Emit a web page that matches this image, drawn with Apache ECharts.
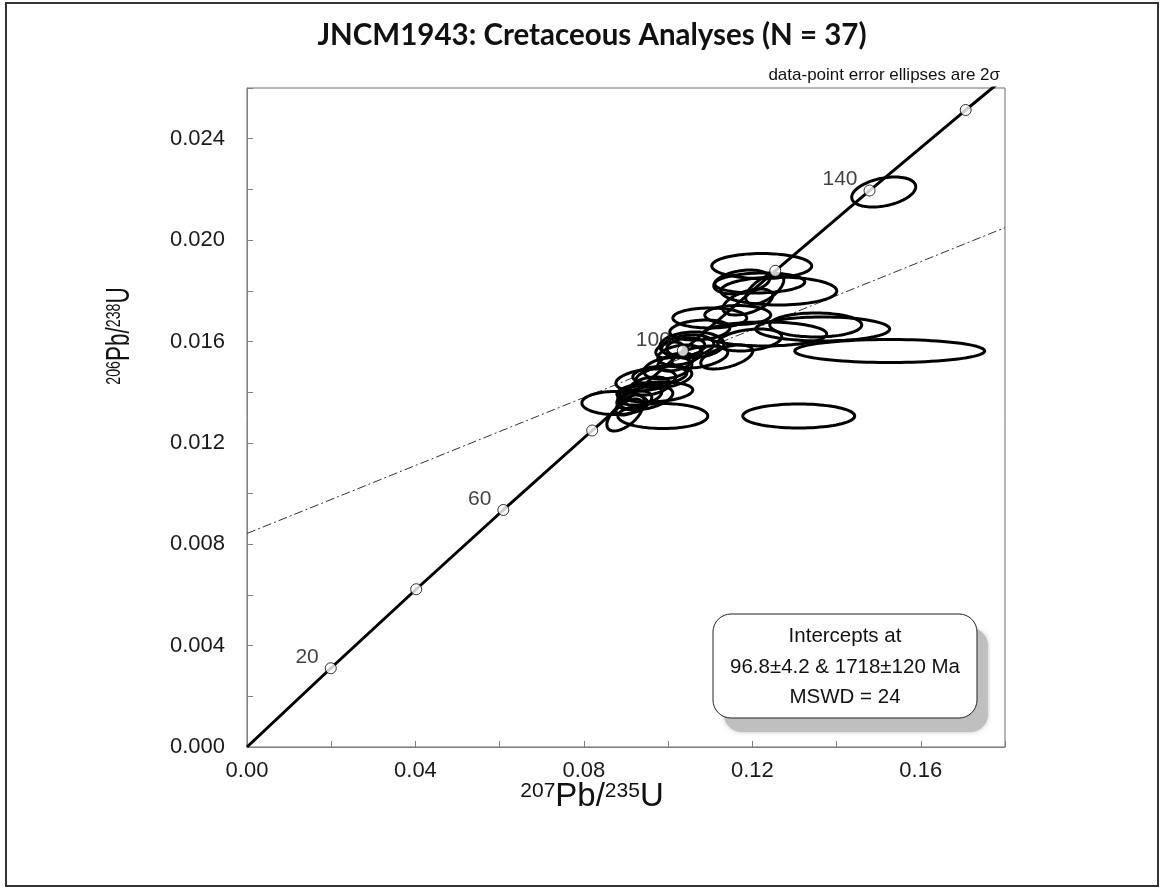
<!DOCTYPE html>
<html>
<head>
<meta charset="utf-8">
<script src="https://cdn.jsdelivr.net/npm/echarts@6/dist/echarts.min.js"></script>
<style>
html, body { margin: 0; padding: 0; background: #fff; }
#chart { width: 1160px; height: 888px; }
</style>
</head>
<body>
<div id="chart"></div>
<script>
// Concordia curve: reference ages (Ma) and their 207Pb/235U, 206Pb/238U ratios
const concordiaAges = [0, 20, 40, 60, 80, 100, 120, 140, 160, 170];
const concordiaX = [0, 0.019892, 0.040180, 0.060872, 0.081975, 0.103497, 0.125447, 0.147834, 0.170665, 0.182260];
const concordiaY = [0, 0.0031073, 0.0062243, 0.0093510, 0.012487, 0.015633, 0.018789, 0.021955, 0.025131, 0.026722];
const markerAges = [20, 40, 60, 80, 100, 120, 140, 160];
const labelledAges = [20, 60, 100, 140];

// Discordia line through the 96.8 Ma and 1718 Ma intercepts
const discordiaX = [0, 0.18];
const discordiaY = [0.008425, 0.020491];

// Analyses: centre ratios, 2-sigma half-widths and error correlation
const ellX   = [0.12224, 0.12177, 0.12628, 0.12295, 0.11892, 0.11749,
                0.11654, 0.10990, 0.12295, 0.13506, 0.13672, 0.11393, 0.11939, 0.10752,
                0.10420, 0.10468, 0.10563, 0.10278, 0.10183, 0.09993, 0.09898, 0.10040, 0.10752,
                0.09874, 0.08735, 0.08972, 0.09684, 0.09328, 0.09233, 0.09566, 0.09803, 0.09091, 0.09447, 0.09471,
                0.15120, 0.15262, 0.13102];
const ellY   = [0.018977, 0.018307, 0.017991, 0.018070, 0.017557, 0.018346,
                0.017044, 0.016926, 0.016295, 0.016650, 0.016492, 0.015387, 0.016058, 0.016452,
                0.015782, 0.015821, 0.015861, 0.015466, 0.015190, 0.014953, 0.014598, 0.015663, 0.015387,
                0.013059, 0.013572, 0.013099, 0.014006, 0.013888, 0.013691, 0.014243, 0.014677, 0.013493, 0.013770, 0.014480,
                0.021897, 0.015624, 0.013059];
const ellSX  = [0.01187, 0.01068, 0.01377, 0.00451, 0.00593, 0.00665,
                0.00783, 0.00878, 0.01472, 0.01092, 0.01590, 0.00617, 0.00760, 0.00712,
                0.00451, 0.00617, 0.00760, 0.00522, 0.00427, 0.00570, 0.00665, 0.00332, 0.00665,
                0.01068, 0.00783, 0.00427, 0.00902, 0.00522, 0.00380, 0.00475, 0.00641, 0.00332, 0.00665, 0.00712,
                0.00760, 0.02255, 0.01329];
const ellSY  = [0.000493, 0.000395, 0.000552, 0.000592, 0.000513, 0.000473,
                0.000375, 0.000395, 0.000473, 0.000473, 0.000473, 0.000473, 0.000434, 0.000395,
                0.000355, 0.000434, 0.000513, 0.000395, 0.000355, 0.000434, 0.000434, 0.000316, 0.000434,
                0.000493, 0.000454, 0.000631, 0.000395, 0.000395, 0.000355, 0.000355, 0.000355, 0.000395, 0.000473, 0.000434,
                0.000592, 0.000454, 0.000473];
const ellRho = [0.0, 0.1, 0.0, 0.6, 0.5, 0.3,
                0.0, 0.0, 0.0, 0.0, 0.0, 0.5, 0.3, 0.2,
                0.2, 0.2, 0.1, 0.3, 0.4, 0.3, 0.3, 0.3, 0.4,
                0.0, 0.0, 0.6, 0.2, 0.3, 0.3, 0.3, 0.2, 0.5, 0.4, 0.3,
                0.35, 0.0, 0.0];

// Axis tick labels
const xTickLabels = ['0.00', '0.04', '0.08', '0.12', '0.16'];
const yTickLabels = ['0.000', '0.004', '0.008', '0.012', '0.016', '0.020', '0.024'];

const FONT = '"Liberation Sans", Arial, sans-serif';
const TITLE_FONT = 'Lato, "Liberation Sans", sans-serif';

const concordiaData = concordiaX.map((x, i) => [x, concordiaY[i]]);
const markerData = markerAges.map(a => {
  const i = concordiaAges.indexOf(a);
  return { value: [concordiaX[i], concordiaY[i]], age: a };
});
const ellipseData = ellX.map((x, i) => [x, ellY[i], ellSX[i], ellSY[i], ellRho[i]]);

function pickLabel(list, v) {
  const s = v.toFixed(list[0].split('.')[1].length);
  return list.indexOf(s) >= 0 ? s : '';
}

const ratioRich = {
  b: { fontSize: 33, fontFamily: FONT, fill: '#111', lineHeight: 32, verticalAlign: 'bottom' },
  s: { fontSize: 21, fontFamily: FONT, fill: '#111', lineHeight: 32, verticalAlign: 'top' }
};

const chart = echarts.init(document.getElementById('chart'), null, { renderer: 'canvas' });

chart.setOption({
  backgroundColor: '#fff',
  animation: false,
  grid: {
    left: 247, top: 88, right: 155, bottom: 141,
    show: true, borderColor: '#6f6f6f', borderWidth: 1, backgroundColor: 'transparent'
  },
  xAxis: {
    type: 'value', min: 0, max: 0.18, interval: 0.02,
    axisLine: { show: true, onZero: false, lineStyle: { color: '#7f7f7f', width: 1 } },
    axisTick: { show: true, inside: true, length: 6, lineStyle: { color: '#7f7f7f' } },
    splitLine: { show: false },
    axisLabel: {
      margin: 13, color: '#1a1a1a', fontSize: 22, fontFamily: FONT,
      formatter: v => pickLabel(xTickLabels, v)
    }
  },
  yAxis: {
    type: 'value', min: 0, max: 0.026, interval: 0.002,
    axisLine: { show: true, onZero: false, lineStyle: { color: '#7f7f7f', width: 1 } },
    axisTick: { show: true, inside: true, length: 6, lineStyle: { color: '#7f7f7f' } },
    splitLine: { show: false },
    axisLabel: {
      margin: 22, color: '#1a1a1a', fontSize: 22, fontFamily: FONT,
      formatter: v => pickLabel(yTickLabels, v)
    }
  },
  graphic: [
    // outer frame
    { type: 'rect', z: 0, shape: { x: 6, y: 3, width: 1152, height: 883 },
      style: { fill: 'none', stroke: '#333', lineWidth: 2 } },
    // title and note
    { type: 'text', z: 20, x: 592, y: 35,
      style: { text: 'JNCM1943: Cretaceous Analyses (N = 37)', fill: '#111',
        font: 'bold 29.5px ' + TITLE_FONT, textAlign: 'center', textVerticalAlign: 'middle' } },
    { type: 'text', z: 20, x: 1000, y: 75,
      style: { text: 'data-point error ellipses are 2\u03c3', fill: '#111',
        font: '17px ' + FONT, textAlign: 'right', textVerticalAlign: 'middle' } },
    // axis titles with superscript mass numbers
    { type: 'text', z: 20, x: 592, y: 797,
      style: { text: '{s|207}{b|Pb/}{s|235}{b|U}', textAlign: 'center', textVerticalAlign: 'middle', rich: ratioRich } },
    { type: 'text', z: 20, x: 120, y: 336, rotation: Math.PI / 2, scaleX: 0.68, scaleY: 1,
      style: { text: '{s|206}{b|Pb/}{s|238}{b|U}', textAlign: 'center', textVerticalAlign: 'middle', rich: ratioRich } },
    // intercept summary box with drop shadow
    { type: 'rect', z: 20, shape: { x: 724, y: 628, width: 264, height: 104, r: 18 },
      style: { fill: '#bfbfbf', shadowBlur: 4, shadowColor: '#bfbfbf' } },
    { type: 'rect', z: 21, shape: { x: 713, y: 614, width: 264, height: 104, r: 18 },
      style: { fill: '#fff', stroke: '#222', lineWidth: 1 } },
    { type: 'text', z: 22, x: 845, y: 636,
      style: { text: 'Intercepts at', fill: '#111', font: '20.5px ' + FONT,
        textAlign: 'center', textVerticalAlign: 'middle' } },
    { type: 'text', z: 22, x: 845, y: 667,
      style: { text: '96.8\u00b14.2 & 1718\u00b1120 Ma', fill: '#111', font: '20.5px ' + FONT,
        textAlign: 'center', textVerticalAlign: 'middle' } },
    { type: 'text', z: 22, x: 845, y: 697,
      style: { text: 'MSWD = 24', fill: '#111', font: '20.5px ' + FONT,
        textAlign: 'center', textVerticalAlign: 'middle' } }
  ],
  series: [
    {
      name: 'discordia', type: 'line', z: 2, silent: true,
      data: discordiaX.map((x, i) => [x, discordiaY[i]]),
      symbol: 'none',
      lineStyle: { color: '#333', width: 1, type: [9, 3, 2, 3] }
    },
    {
      name: 'concordia', type: 'line', z: 3, silent: true, clip: true,
      data: concordiaData, symbol: 'none',
      lineStyle: { color: '#000', width: 3 }
    },
    {
      name: 'analyses', type: 'custom', z: 4, silent: true,
      data: ellipseData,
      encode: { x: 0, y: 1 },
      renderItem: function (params, api) {
        const cx = api.value(0), cy = api.value(1);
        const sx = api.value(2), sy = api.value(3), r = api.value(4);
        const k = Math.sqrt(1 - r * r);
        const pts = [];
        for (let i = 0; i < 90; i++) {
          const t = i / 90 * Math.PI * 2;
          pts.push(api.coord([cx + sx * Math.cos(t), cy + sy * (r * Math.cos(t) + k * Math.sin(t))]));
        }
        return {
          type: 'polygon',
          shape: { points: pts },
          style: { fill: 'none', stroke: '#000', lineWidth: 3 }
        };
      }
    },
    {
      name: 'ages', type: 'scatter', z: 5, silent: true,
      data: markerData,
      symbol: 'circle', symbolSize: 11,
      itemStyle: { color: '#fff', borderColor: '#000', borderWidth: 1 },
      label: {
        show: true, position: 'left', distance: 6, offset: [0, -11],
        color: '#111', fontSize: 21, fontFamily: FONT,
        formatter: p => labelledAges.indexOf(p.data.age) >= 0 ? String(p.data.age) : ''
      }
    }
  ]
});
</script>
</body>
</html>
